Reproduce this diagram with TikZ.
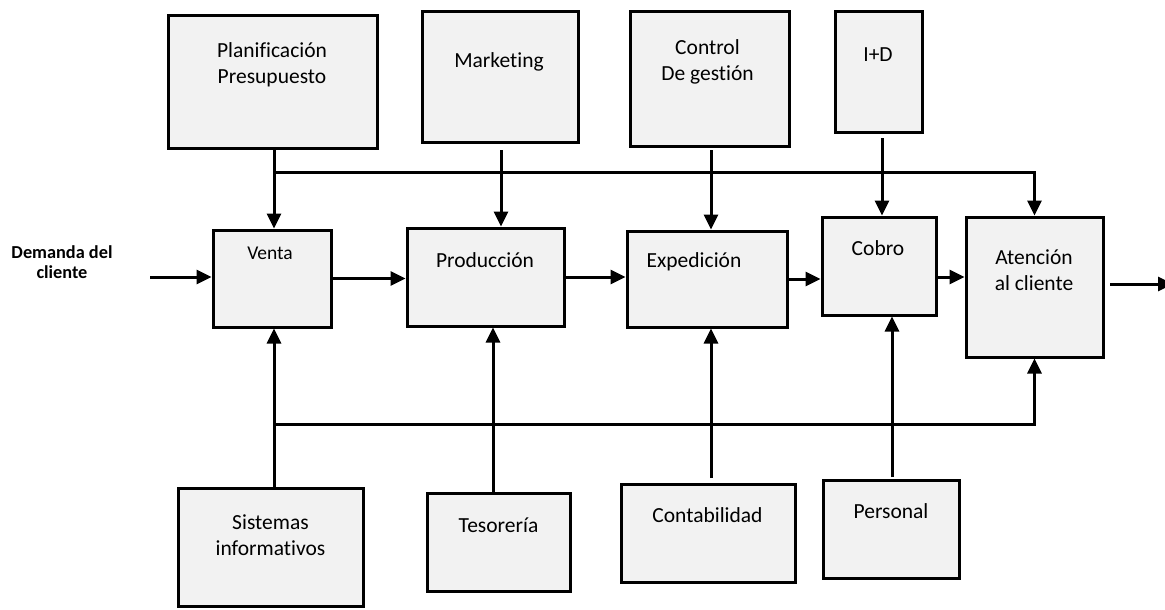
\documentclass[tikz,border=0pt]{standalone}
\usepackage{fontspec}
\setmainfont{Carlito}[Ligatures=CommonOff]
\usetikzlibrary{arrows.meta, positioning, calc}
\definecolor{BoxGray}{HTML}{F2F2F2}
\tikzset{
  box/.style={draw=black, line width=3pt, fill=BoxGray, inner sep=0pt},
  txt/.style={align=center, font=\fontsize{21.5}{26}\selectfont, inner sep=0pt},
  boldtxt/.style={align=center, font=\bfseries\fontsize{18.3}{20}\selectfont, inner sep=0pt},
  arrow/.style={-{Triangle[length=15pt, width=14pt]}, line width=3pt},
  bus/.style={line width=3pt}
}

\begin{document}
\begin{tikzpicture}[x=1pt,y=-1pt]
\useasboundingbox (0,0) rectangle (1165,610);

% top row
\node[box, minimum width=209pt, minimum height=132pt] (plan) at (272.5,82) {};
\node[txt] (plantxt) at (272,65) {Planificación\\Presupuesto};
\node[box, minimum width=156pt, minimum height=130pt] (mkt) at (500,77) {};
\node[txt] (mkttxt) at (499,62) {Marketing};
\node[box, minimum width=159pt, minimum height=134pt] (ctrl) at (709.5,79) {};
\node[txt] (ctrltxt) at (707.5,62) {Control\\De gestión};
\node[box, minimum width=87pt, minimum height=120pt] (id) at (878.5,72) {};
\node[txt] (idtxt) at (878,55) {I+D};

% main chain
\node[boldtxt] (dem) at (62,262) {Demanda del\\cliente};
\node[box, minimum width=118pt, minimum height=97pt] (venta) at (272,278.5) {};
\node[txt, font=\fontsize{19.5}{23}\selectfont] (ventatxt) at (270,253) {Venta};
\node[box, minimum width=157pt, minimum height=98pt] (prod) at (485.5,277) {};
\node[txt] (prodtxt) at (485,260) {Producción};
\node[box, minimum width=160pt, minimum height=96pt] (exp) at (707,279) {};
\node[txt] (exptxt) at (694,262) {Expedición};
\node[box, minimum width=114pt, minimum height=98pt] (cobro) at (879,266) {};
\node[txt] (cobrotxt) at (878,248) {Cobro};
\node[box, minimum width=137pt, minimum height=140pt] (aten) at (1034.5,287) {};
\node[txt] (atentxt) at (1034,270) {Atención\\al cliente};

% bottom row
\node[box, minimum width=185pt, minimum height=118pt] (sist) at (270.5,547) {};
\node[txt] (sisttxt) at (270.5,535) {Sistemas\\informativos};
\node[box, minimum width=143pt, minimum height=98pt] (tes) at (498.5,542) {};
\node[txt] (testxt) at (498.5,525) {Tesorería};
\node[box, minimum width=174pt, minimum height=98pt] (cont) at (708,533) {};
\node[txt] (conttxt) at (707.5,515) {Contabilidad};
\node[box, minimum width=136pt, minimum height=98pt] (pers) at (891,529) {};
\node[txt] (perstxt) at (891,511) {Personal};

% flow
\coordinate (inp) at (150,277);
\draw[arrow] (inp) -- (inp -| venta.west);
\draw[arrow] (venta.east) -- (venta.east -| prod.west);
\draw[arrow] (prod.east) -- (prod.east -| exp.west);
\draw[arrow] (exp.east) -- (exp.east -| cobro.west);
\coordinate (ca) at ([yshift=-11pt]cobro.east);
\draw[arrow] (ca) -- (ca -| aten.west);
\coordinate (outs) at (1110,284);
\coordinate (outp) at (1173,284);
\draw[arrow] (outs) -- (outp);

% from above
\coordinate (topbus) at (274,172);
\draw[bus] (topbus |- plan.south) -- (topbus);
\draw[arrow] (topbus) -- (topbus |- venta.north);
\draw[arrow] (topbus) -| (aten.north);
\coordinate (mktout) at (501,150);
\draw[arrow] (mktout) -- (mktout |- prod.north);
\coordinate (ctrlout) at (711,150);
\draw[arrow] (ctrlout) -- (ctrlout |- exp.north);
\coordinate (idout) at (882,138);
\draw[arrow] (idout) -- (idout |- cobro.north);

% from below
\coordinate (botbus) at (274,424);
\draw[arrow] (botbus |- sist.north) -- (botbus |- venta.south);
\draw[arrow] (botbus) -| (aten.south);
\coordinate (tesx) at (493,424);
\draw[arrow] (tesx |- tes.north) -- (tesx |- prod.south);
\coordinate (contin) at (711,478);
\draw[arrow] (contin) -- (contin |- exp.south);
\coordinate (persin) at (892,477);
\draw[arrow] (persin) -- (persin |- cobro.south);
\end{tikzpicture}
\end{document}
